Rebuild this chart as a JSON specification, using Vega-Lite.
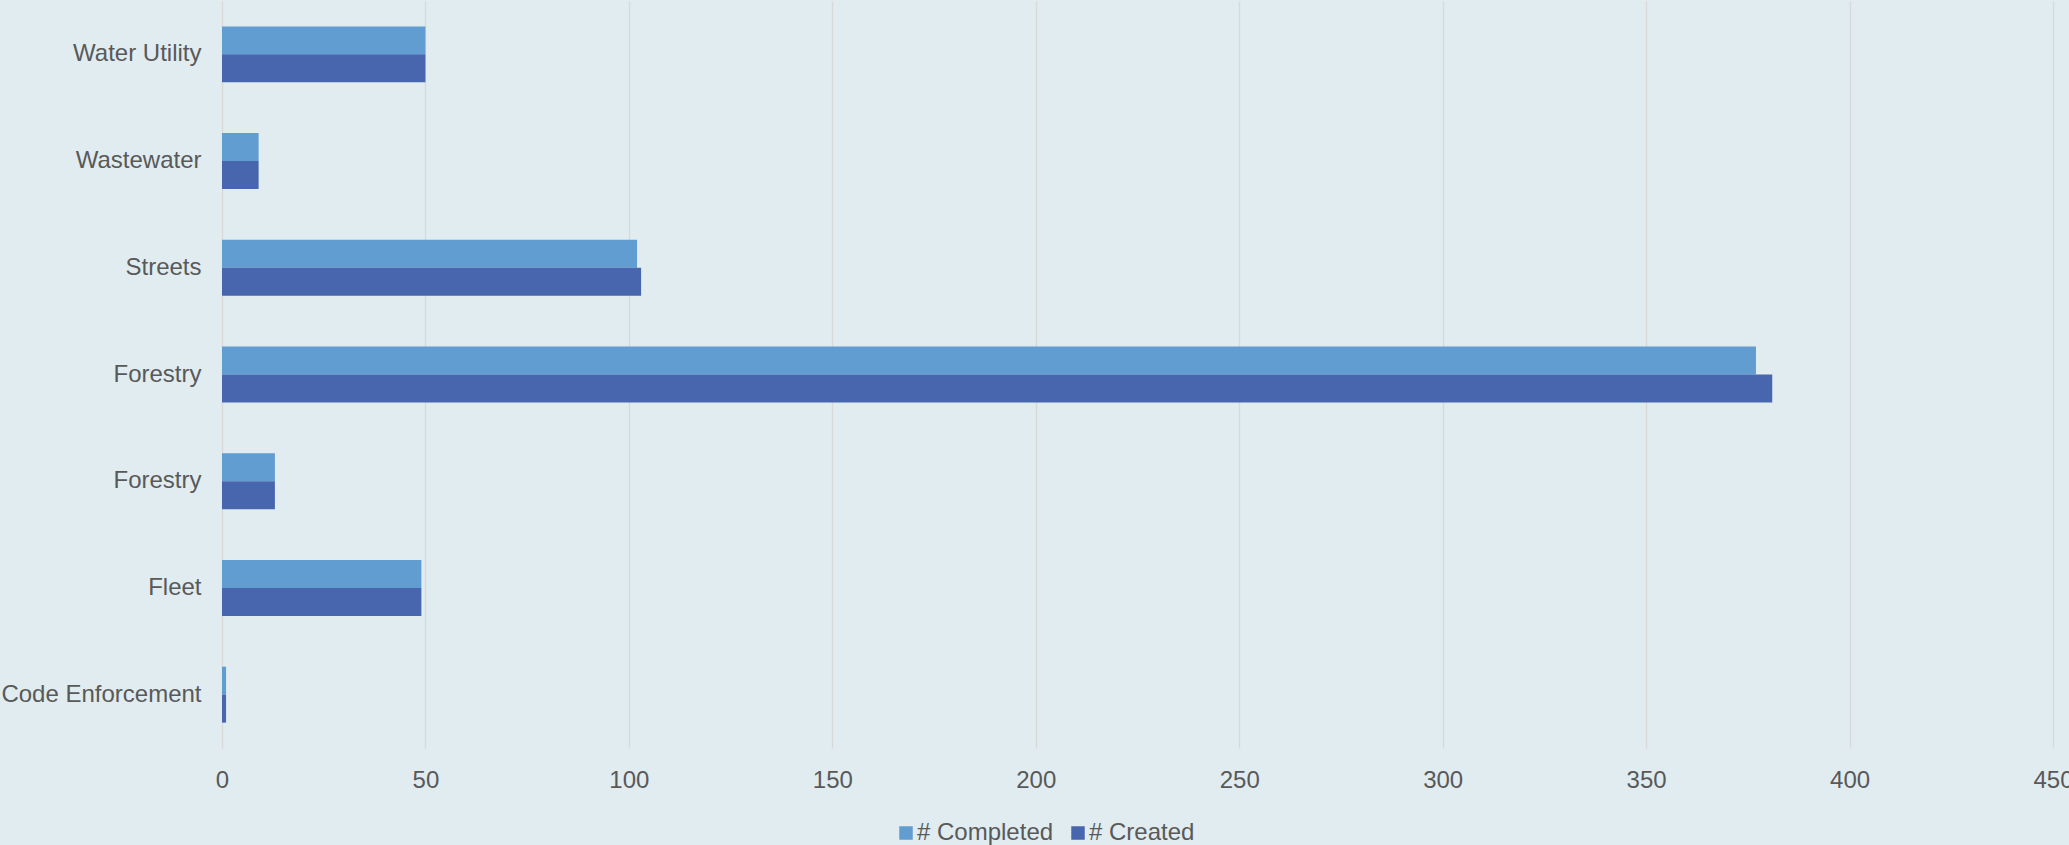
{
  "$schema": "https://vega.github.io/schema/vega-lite/v6.json",
  "width": 1831,
  "height": 747,
  "autosize": {"type": "none"},
  "padding": {"left": 222, "top": 1, "right": 16, "bottom": 97},
  "background": "#E0ECF0",
  "config": {
    "view": {"stroke": null},
    "font": "Liberation Sans"
  },
  "data": {
    "values": [
      {"unit": "Water Utility|1", "series": "# Completed", "count": 50},
      {"unit": "Water Utility|1", "series": "# Created", "count": 50},
      {"unit": "Wastewater|1", "series": "# Completed", "count": 9},
      {"unit": "Wastewater|1", "series": "# Created", "count": 9},
      {"unit": "Streets|1", "series": "# Completed", "count": 102},
      {"unit": "Streets|1", "series": "# Created", "count": 103},
      {"unit": "Forestry|1", "series": "# Completed", "count": 377},
      {"unit": "Forestry|1", "series": "# Created", "count": 381},
      {"unit": "Forestry|2", "series": "# Completed", "count": 13},
      {"unit": "Forestry|2", "series": "# Created", "count": 13},
      {"unit": "Fleet|1", "series": "# Completed", "count": 49},
      {"unit": "Fleet|1", "series": "# Created", "count": 49},
      {"unit": "Code Enforcement|1", "series": "# Completed", "count": 1},
      {"unit": "Code Enforcement|1", "series": "# Created", "count": 1}
    ]
  },
  "mark": {"type": "bar"},
  "encoding": {
    "y": {
      "field": "unit",
      "type": "nominal",
      "sort": ["Water Utility|1", "Wastewater|1", "Streets|1", "Forestry|1", "Forestry|2", "Fleet|1", "Code Enforcement|1"],
      "scale": {"paddingInner": 0.476, "paddingOuter": 0.238},
      "axis": {
        "title": null,
        "labelExpr": "split(datum.label, '|')[0]",
        "labelLimit": 0,
        "ticks": false,
        "domain": false,
        "grid": false,
        "labelFontSize": 24,
        "labelColor": "#595959",
        "labelPadding": 21
      }
    },
    "yOffset": {
      "field": "series",
      "sort": ["# Completed", "# Created"],
      "scale": {"paddingInner": 0, "paddingOuter": 0}
    },
    "x": {
      "field": "count",
      "type": "quantitative",
      "scale": {"domain": [0, 450], "nice": false},
      "axis": {
        "title": null,
        "values": [0, 50, 100, 150, 200, 250, 300, 350, 400, 450],
        "ticks": false,
        "domain": false,
        "grid": true,
        "gridColor": "#D9D9D9",
        "gridWidth": 1.5,
        "labelFontSize": 24,
        "labelColor": "#595959",
        "labelPadding": 20,
        "labelFlush": false
      }
    },
    "color": {
      "field": "series",
      "type": "nominal",
      "scale": {"domain": ["# Completed", "# Created"], "range": ["#619DD1", "#4866AD"]},
      "legend": {
        "title": null,
        "orient": "none",
        "legendX": 672,
        "legendY": 820,
        "direction": "horizontal",
        "symbolType": "square",
        "symbolSize": 182,
        "symbolStrokeWidth": 0,
        "labelFontSize": 24,
        "labelColor": "#595959",
        "labelOffset": -1,
        "columnPadding": 12
      }
    }
  }
}
